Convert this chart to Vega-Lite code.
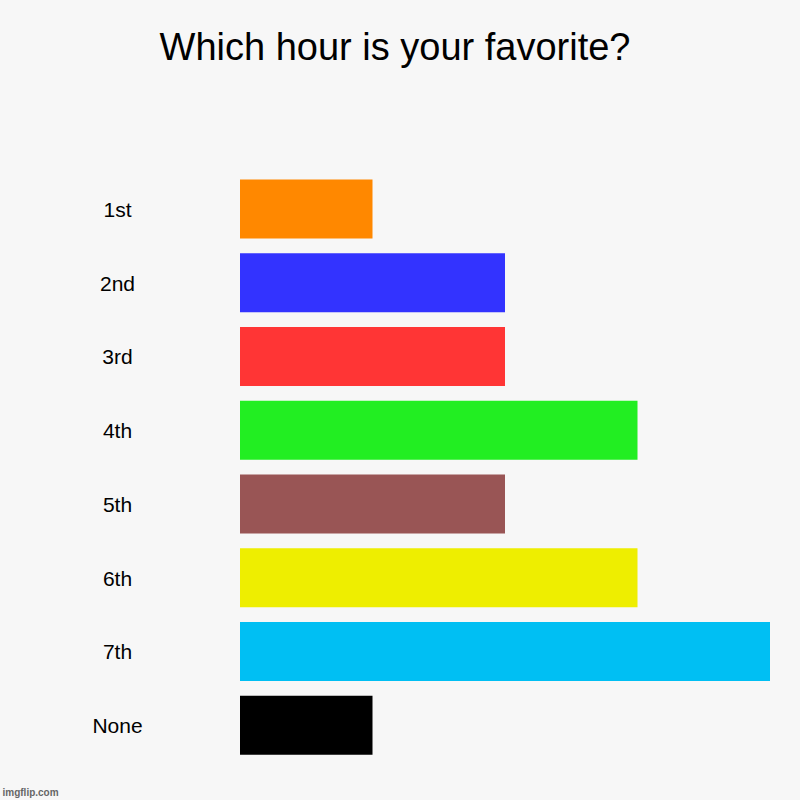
{
  "$schema": "https://vega.github.io/schema/vega-lite/v6.json",
  "autosize": "none",
  "width": 530,
  "height": 590,
  "padding": {"left": 240, "top": 172, "right": 30, "bottom": 38},
  "background": "#f7f7f7",
  "title": {
    "text": "Which hour is your favorite?",
    "font": "Liberation Sans",
    "fontSize": 38,
    "fontWeight": "normal",
    "color": "#000000",
    "anchor": "middle",
    "baseline": "alphabetic",
    "offset": 74,
    "dx": -110
  },
  "data": {
    "values": [
      {"hour": "1st", "votes": 1, "color": "#ff8800"},
      {"hour": "2nd", "votes": 2, "color": "#3333ff"},
      {"hour": "3rd", "votes": 2, "color": "#ff3535"},
      {"hour": "4th", "votes": 3, "color": "#22ee22"},
      {"hour": "5th", "votes": 2, "color": "#995555"},
      {"hour": "6th", "votes": 3, "color": "#eeee00"},
      {"hour": "7th", "votes": 4, "color": "#00bff3"},
      {"hour": "None", "votes": 1, "color": "#000000"}
    ]
  },
  "mark": {"type": "bar"},
  "encoding": {
    "y": {
      "field": "hour",
      "type": "nominal",
      "sort": null,
      "scale": {"paddingInner": 0.2, "paddingOuter": 0.1},
      "axis": {
        "title": null,
        "ticks": false,
        "domain": false,
        "labelAlign": "center",
        "labelPadding": 123,
        "labelOffset": 2,
        "labelFont": "Liberation Sans",
        "labelFontSize": 21,
        "labelColor": "#000000"
      }
    },
    "x": {
      "field": "votes",
      "type": "quantitative",
      "scale": {"domain": [0, 4], "nice": false},
      "axis": {
        "labels": false,
        "ticks": false,
        "domain": false,
        "grid": false,
        "title": "imgflip.com",
        "titleX": -238,
        "titleY": 33,
        "titleAlign": "left",
        "titleBaseline": "alphabetic",
        "titleFont": "Liberation Sans",
        "titleFontSize": 10,
        "titleFontWeight": "bold",
        "titleColor": "#666666"
      }
    },
    "color": {"field": "color", "type": "nominal", "scale": null}
  },
  "config": {"view": {"stroke": null}}
}
